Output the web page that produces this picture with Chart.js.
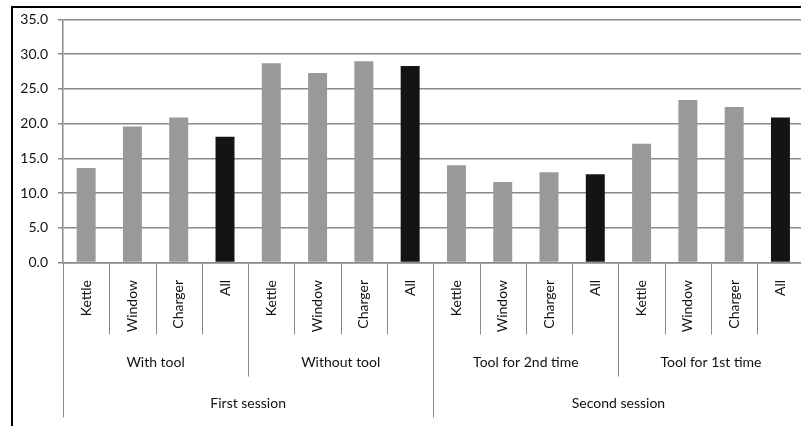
<!DOCTYPE html>
<html>
<head>
<meta charset="utf-8">
<script src="https://cdn.jsdelivr.net/npm/chart.js@4/dist/chart.umd.min.js"></script>
<style>
  html, body { margin: 0; padding: 0; background: #fff; overflow: hidden; }
  #wrap { width: 801px; height: 426px; overflow: hidden; position: relative; }
  canvas { display: block; }
</style>
</head>
<body>
<div id="wrap"><canvas id="c" width="810" height="426"></canvas></div>
<script>
// Task labels shown under each bar
const tasks = ['Kettle', 'Window', 'Charger', 'All'];
// Condition groups, four bars each
const conditions = ['With tool', 'Without tool', 'Tool for 2nd time', 'Tool for 1st time'];
// Sessions, two conditions each
const sessions = ['First session', 'Second session'];

// Values per condition (Kettle, Window, Charger, All)
const withTool = [13.6, 19.6, 20.9, 18.1];
const withoutTool = [28.7, 27.3, 29.0, 28.3];
const toolSecondTime = [14.0, 11.6, 13.0, 12.7];
const toolFirstTime = [17.1, 23.4, 22.4, 20.9];

// Y axis ticks
const yTicks = [0, 5, 10, 15, 20, 25, 30, 35];

const values = [].concat(withTool, withoutTool, toolSecondTime, toolFirstTime);
const labels = [];
conditions.forEach(c => tasks.forEach(t => labels.push(c + ' | ' + t)));
const colors = labels.map((l, i) => (i % 4 === 3) ? '#141414' : '#999999');

const FONT_FAMILY = 'Lato, "Open Sans", sans-serif';
const FONT = '14px ' + FONT_FAMILY;
const TEXT = '#111111';
const LINE = '#8a8a8a';

const multiLevelAxis = {
  id: 'multiLevelAxis',
  afterDraw(chart) {
    const ctx = chart.ctx;
    const xs = chart.scales.x;
    const base = chart.chartArea.bottom;
    const n = labels.length;
    const step = xs.getPixelForValue(1) - xs.getPixelForValue(0);
    const edge = i => xs.getPixelForValue(0) - step / 2 + i * step;

    ctx.save();
    // separators between categories, conditions and sessions
    ctx.strokeStyle = LINE;
    ctx.lineWidth = 1;
    for (let i = 0; i <= n; i++) {
      let len = 72;
      if (i % 8 === 0) len = 155;
      else if (i % 4 === 0) len = 114;
      const px = Math.round(edge(i)) + 0.5;
      ctx.beginPath();
      ctx.moveTo(px, base);
      ctx.lineTo(px, base + len);
      ctx.stroke();
    }

    ctx.fillStyle = TEXT;
    ctx.font = FONT;
    // rotated task labels
    for (let i = 0; i < n; i++) {
      const cx = xs.getPixelForValue(i);
      ctx.save();
      ctx.translate(cx, base + 17.5);
      ctx.rotate(-Math.PI / 2);
      ctx.textAlign = 'right';
      ctx.textBaseline = 'middle';
      ctx.fillText(tasks[i % 4], 0, 0);
      ctx.restore();
    }
    // condition labels
    ctx.textAlign = 'center';
    ctx.textBaseline = 'middle';
    conditions.forEach((c, g) => {
      const cx = (edge(g * 4) + edge(g * 4 + 4)) / 2;
      ctx.fillText(c, cx, base + 100);
    });
    // session labels
    sessions.forEach((s, k) => {
      const cx = (edge(k * 8) + edge(k * 8 + 8)) / 2;
      ctx.fillText(s, cx, base + 141);
    });

    // outer frame
    ctx.strokeStyle = '#000';
    ctx.lineWidth = 2;
    ctx.beginPath();
    ctx.moveTo(12, 426);
    ctx.lineTo(12, 7);
    ctx.lineTo(810, 7);
    ctx.stroke();
    ctx.restore();
  }
};

new Chart(document.getElementById('c'), {
  type: 'bar',
  data: {
    labels: labels,
    datasets: [{
      data: values,
      backgroundColor: colors,
      borderWidth: 0,
      categoryPercentage: 1,
      barPercentage: 0.41
    }]
  },
  options: {
    responsive: false,
    animation: false,
    devicePixelRatio: 1,
    layout: { padding: { top: 19.5, right: 6.4, left: 0, bottom: 0 } },
    plugins: { legend: { display: false }, tooltip: { enabled: false } },
    scales: {
      x: {
        grid: { display: false },
        border: { display: true, color: LINE, width: 1.5 },
        ticks: { display: false },
        afterFit(scale) { scale.height = 163.5; }
      },
      y: {
        min: 0,
        max: 35,
        afterFit(scale) { scale.width = 63; },
        afterBuildTicks(scale) { scale.ticks = yTicks.map(v => ({ value: v })); },
        ticks: {
          padding: 10,
          color: TEXT,
          font: { family: FONT_FAMILY, size: 14 },
          callback: v => Number(v).toFixed(1)
        },
        grid: { color: LINE, lineWidth: 1.5, tickLength: 5 },
        border: { display: true, color: LINE, width: 1.5 }
      }
    }
  },
  plugins: [multiLevelAxis]
});
</script>
</body>
</html>
